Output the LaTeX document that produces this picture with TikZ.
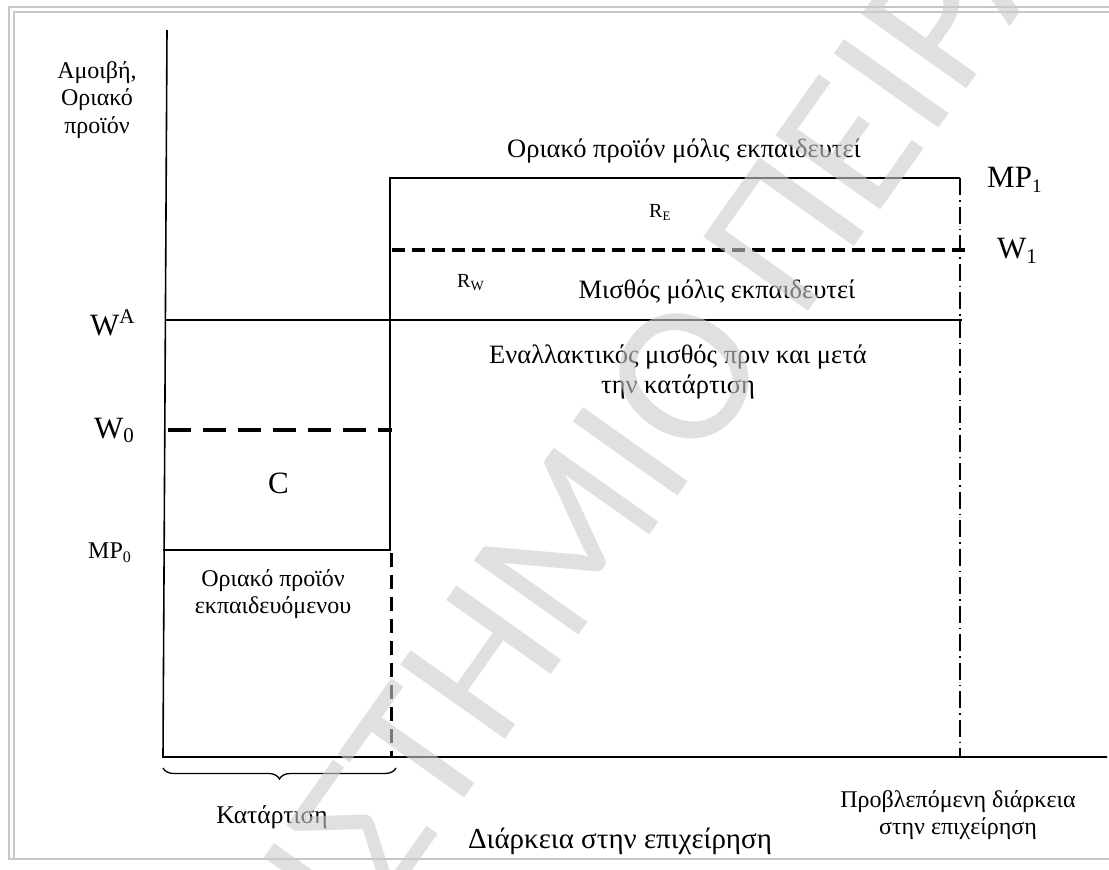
\documentclass[tikz,border=0pt]{standalone}
\usepackage{fontspec}
\setmainfont{Liberation Serif}
\newfontfamily\wmfont{Carlito}
\usetikzlibrary{decorations.pathreplacing}

\tikzset{
  axisline/.style={line width=1.6pt, black},
  levelline/.style={line width=1.5pt, black},
  lowdash/.style={line width=3.6pt, dash pattern=on 23pt off 12pt},
  highdash/.style={line width=3.2pt, dash pattern=on 13pt off 7pt},
  vdash/.style={line width=3pt, dash pattern=on 14pt off 8pt},
  dashdotline/.style={line width=1.5pt, dash pattern=on 17pt off 5pt on 1.5pt off 5pt},
  txt/.style={font=\fontsize{24}{27.5}\selectfont, inner sep=0pt, align=center},
  widetxt/.style={font=\fontsize{26.5}{30}\selectfont, inner sep=0pt, align=center},
  bigtxt/.style={font=\fontsize{31}{31}\selectfont, inner sep=0pt, anchor=base west},
  midtxt/.style={font=\fontsize{24}{24}\selectfont, inner sep=0pt, anchor=base west},
  smalltxt/.style={font=\fontsize{20}{20}\selectfont, inner sep=0pt, anchor=base west},
  framerule/.style={draw=black!22, line width=1.6pt},
  wm/.style={rotate=54.7, inner sep=0pt, font=\wmfont\fontsize{200}{200}\selectfont,
    text=black!20, text opacity=0.6},
}

\newcommand{\lowidx}[3]{\raisebox{-#2}{\fontsize{#1}{#1}\selectfont #3}}
\newcommand{\highidx}[3]{\raisebox{#2}{\fontsize{#1}{#1}\selectfont #3}}

\begin{document}
\begin{tikzpicture}[x=1pt, y=-1pt]
\useasboundingbox (0,0) rectangle (1109,870);

% page frame
\draw[framerule] (1109,7) -- (9,7) -- (9,859) -- (1109,859);
\draw[framerule] (1109,12) -- (14,12) -- (14,859);

% axes
\coordinate (ytop) at (167,30);
\coordinate (orig) at (163,757);
\coordinate (xend) at (1107,757);
\draw[axisline] (ytop) -- (orig) -- (xend);

% key points of the profile
\coordinate (mp0L) at (163,550);
\coordinate (mp0R) at (390,550);
\coordinate (mp1L) at (390,178);
\coordinate (mp1R) at (960,178);
\coordinate (waL) at (166,320);
\coordinate (waR) at (962,320);
\coordinate (w0L) at (168,430);
\coordinate (w0R) at (392,430);
\coordinate (w1L) at (392,250);
\coordinate (w1R) at (966,250);
\coordinate (trB) at (391,757);
\coordinate (trT) at (391,553);
\coordinate (endB) at (960,757);

\draw[levelline] (mp0L) -- (mp0R) -- (mp1L) -- (mp1R);
\draw[levelline] (waL) -- (waR);
\draw[lowdash] (w0L) -- (w0R);
\draw[highdash] (w1L) -- (w1R);
\draw[vdash] (trT) -- (trB);
\draw[dashdotline] (mp1R) -- (endB);

% training period brace
\coordinate (brL) at (163,768);
\coordinate (brR) at (396,768);
\draw[line width=1.3pt, decorate, decoration={brace, mirror, amplitude=11pt}] (brL) -- (brR);

% axis labels
\node[txt] (ylab) at (97,100) {Αμοιβή,\\Οριακό\\προϊόν};
\node[txt, font=\fontsize{25.5}{27.5}\selectfont, anchor=base] (train) at (272,823) {Κατάρτιση};
\node[txt, font=\fontsize{29}{30}\selectfont, anchor=base] (xlab) at (620,848) {Διάρκεια στην επιχείρηση};
\node[txt] (horizon) at (958,815) {Προβλεπόμενη διάρκεια\\στην επιχείρηση};

% level labels
\node[bigtxt] (lWA) at (90,335) {W\highidx{21}{12pt}{A}};
\node[bigtxt] (lW0) at (94,438) {W\lowidx{21}{4pt}{0}};
\node[midtxt] (lMP0) at (88,558) {MP\lowidx{16}{4pt}{0}};
\node[bigtxt] (lMP1) at (987,187) {MP\lowidx{19}{5pt}{1}};
\node[bigtxt] (lW1) at (997,258) {W\lowidx{21}{5pt}{1}};

% area labels
\node[bigtxt] (lC) at (268,493) {C};
\node[smalltxt] (lRE) at (649,217) {R\lowidx{13}{3pt}{E}};
\node[smalltxt] (lRW) at (457,287) {R\lowidx{14}{3pt}{W}};
\node[widetxt, anchor=base] (tMP1) at (684,157) {Οριακό προϊόν μόλις εκπαιδευτεί};
\node[widetxt, anchor=base] (tW1) at (717,298) {Μισθός μόλις εκπαιδευτεί};
\node[widetxt] (tWA) at (678,372) {Εναλλακτικός μισθός πριν και μετά\\την κατάρτιση};
\node[txt] (tMP0) at (273,594) {Οριακό προϊόν\\εκπαιδευόμενου};

% watermark, split at the letter Ο so that it can be placed by its baseline
\coordinate (wmPivot) at (698,468);
\begin{scope}
\clip (0,0) rectangle (1109,870);
\node[wm, anchor=base east] (wmLeft) at (wmPivot) {ΠΑΝΕΠΙΣΤΗΜΙ};
\node[wm, anchor=base west] (wmRight) at (wmPivot) {Ο ΠΕΙΡΑΙΩΣ};
\end{scope}
\end{tikzpicture}
\end{document}
